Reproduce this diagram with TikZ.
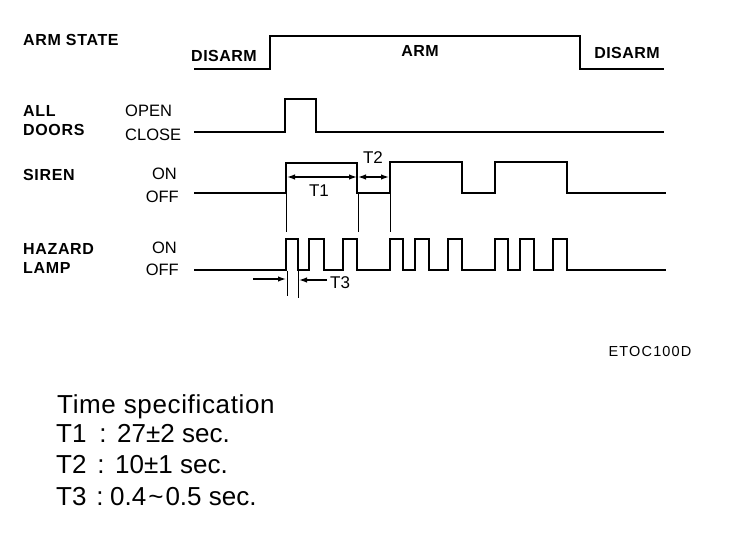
\documentclass[tikz,border=0pt]{standalone}
\usepackage{fontspec}
\setmainfont{Liberation Sans}
\usetikzlibrary{arrows.meta}
\begin{document}
\begin{tikzpicture}[x=1pt,y=-1pt,
  sig/.style={line width=2pt,line join=miter,line cap=rect},
  guide/.style={line width=0.8pt},
  dim/.style={line width=1.3pt},
  tip/.style={-{Latex[length=8pt,width=5.5pt]}},
  lbl/.style={anchor=west,inner sep=0pt,font=\fontsize{16}{17}\selectfont\bfseries\addfontfeature{LetterSpace=4}},
  lvl/.style={anchor=east,inner sep=0pt,font=\fontsize{16.5}{17}\selectfont},
  st/.style={inner sep=0pt,font=\fontsize{16}{17}\selectfont\bfseries\addfontfeature{LetterSpace=3}},
  tl/.style={inner sep=0pt,font=\fontsize{17}{18}\selectfont},
  spec/.style={anchor=base west,inner sep=0pt,font=\fontsize{26}{28}\selectfont}]
\useasboundingbox (0,0) rectangle (736,534);
% left labels
\node[lbl] (armstate) at (23,40) {ARM STATE};
\node[lbl] (all) at (23,111) {ALL};
\node[lbl] (doors) at (23,130) {DOORS};
\node[lbl] (siren) at (23,175) {SIREN};
\node[lbl] (hazard) at (23,249) {HAZARD};
\node[lbl] (lamp) at (23,268) {LAMP};
\node[lvl,anchor=west] (open) at (125,111) {OPEN};
\node[lvl,anchor=west] (close) at (125,135) {CLOSE};
\node[lvl] (sOn) at (177,174) {ON};
\node[lvl] (sOff) at (179,197) {OFF};
\node[lvl] (hOn) at (177,248) {ON};
\node[lvl] (hOff) at (179,270) {OFF};
% state labels
\node[st] (dis1) at (224,56) {DISARM};
\node[st] (arm) at (420,51) {ARM};
\node[st] (dis2) at (627,53) {DISARM};
% arm state
\draw[sig] (195,69) -- (270,69) -- (270,36) -- (580,36) -- (580,69) -- (663,69);
% all doors
\draw[sig] (195,132) -- (285,132) -- (285,99) -- (316,99) -- (316,132) -- (663,132);
% siren
\draw[sig] (195,193) -- (286,193) -- (286,163) -- (357,163) -- (357,193) -- (390,193)
  -- (390,162) -- (462,162) -- (462,193) -- (495,193) -- (495,162) -- (567,162) -- (567,193) -- (665,193);
% hazard lamp
\draw[sig] (195,270) -- (286,270) -- (286,239) -- (298,239) -- (298,270)
  -- (309,270) -- (309,239) -- (324,239) -- (324,270)
  -- (343,270) -- (343,239) -- (357,239) -- (357,270)
  -- (390,270) -- (390,239) -- (403,239) -- (403,270)
  -- (415,270) -- (415,239) -- (429,239) -- (429,270)
  -- (448,270) -- (448,239) -- (462,239) -- (462,270)
  -- (495,270) -- (495,239) -- (508,239) -- (508,270)
  -- (520,270) -- (520,239) -- (534,239) -- (534,270)
  -- (553,270) -- (553,239) -- (567,239) -- (567,270) -- (665,270);
% guides
\coordinate (g1a) at (286,194); \coordinate (g1b) at (286,232);
\coordinate (g2a) at (358,194); \coordinate (g2b) at (358,232);
\coordinate (g3a) at (390,194); \coordinate (g3b) at (390,232);
\draw[guide] (g1a) -- (g1b);
\draw[guide] (g2a) -- (g2b);
\draw[guide] (g3a) -- (g3b);
\coordinate (h1a) at (287,271); \coordinate (h1b) at (287,296);
\coordinate (h2a) at (298,271); \coordinate (h2b) at (298,298);
\draw[guide] (h1a) -- (h1b);
\draw[guide] (h2a) -- (h2b);
% T1, T2
\coordinate (t1l) at (287,177); \coordinate (t1r) at (357,177);
\coordinate (t2l) at (358,177); \coordinate (t2r) at (389,177);
\draw[dim,{Latex[length=8pt,width=5.5pt]}-{Latex[length=8pt,width=5.5pt]}] (t1l) -- (t1r);
\draw[dim,{Latex[length=8pt,width=5.5pt]}-{Latex[length=8pt,width=5.5pt]}] (t2l) -- (t2r);
\node[tl] (T1) at (319,191) {T1};
\node[tl] (T2) at (373,158) {T2};
% T3
\coordinate (t3a) at (253,279); \coordinate (t3b) at (286,279);
\coordinate (t3c) at (327,280); \coordinate (t3d) at (299,280);
\draw[dim,tip] (t3a) -- (t3b);
\draw[dim,tip] (t3c) -- (t3d);
\node[tl,anchor=west] (T3) at (330,283) {T3};
% code
\node[inner sep=0pt,font=\fontsize{14.5}{15}\selectfont\addfontfeature{LetterSpace=8}] (code) at (650,352) {ETOC100D};
% spec
\node[spec,font=\fontsize{26}{28}\selectfont\addfontfeature{LetterSpace=2.5}] (sp0) at (57,413) {Time specification};
\node[spec] (k1) at (56,442) {T1};
\node[spec] (k2) at (56,473) {T2};
\node[spec] (k3) at (56,505) {T3};
\node[spec,anchor=base] (c1) at (103,442) {:};
\node[spec,anchor=base] (c2) at (101,473) {:};
\node[spec,anchor=base] (c3) at (100,505) {:};
\node[spec] (v1) at (117,442) {27±2 sec.};
\node[spec] (v2) at (115,473) {10±1 sec.};
\node[spec] (v3) at (110,505) {0.4\kern2pt\char"7E\kern2pt 0.5 sec.};
\end{tikzpicture}
\end{document}
